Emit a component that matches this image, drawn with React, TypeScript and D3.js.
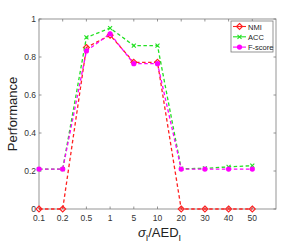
import React, { useEffect, useRef } from 'react';
import * as d3 from 'd3';

const categories = ['0.1', '0.2', '0.5', '1', '5', '10', '20', '30', '40', '50'];
const nmi = [0, 0, 0.85, 0.915, 0.772, 0.772, 0, 0, 0, 0];
const acc = [0.21, 0.21, 0.903, 0.952, 0.86, 0.86, 0.212, 0.214, 0.222, 0.228];
const fscore = [0.21, 0.21, 0.832, 0.922, 0.765, 0.765, 0.21, 0.21, 0.21, 0.21];
const yTicks = [0, 0.2, 0.4, 0.6, 0.8, 1];

const series = [
  { name: 'NMI', values: nmi, color: '#ff2020', marker: 'diamond' },
  { name: 'ACC', values: acc, color: '#22e022', marker: 'cross' },
  { name: 'F-score', values: fscore, color: '#ff00ff', marker: 'circle' },
];

export default function App() {
  const svgRef = useRef<SVGSVGElement>(null);

  useEffect(() => {
    if (!svgRef.current) return;
    const width = 305;
    const height = 246;
    const m = { left: 39, right: 29, top: 19, bottom: 37 };
    const svg = d3.select(svgRef.current);
    svg.selectAll('*').remove();

    const x = d3.scaleLinear().domain([0, categories.length]).range([m.left, width - m.right]);
    const y = d3.scaleLinear().domain([0, 1]).range([height - m.bottom, m.top]);
    const axisColor = '#7a7a7a';
    const font = 'Liberation Sans, Arial, sans-serif';

    svg.append('rect').attr('width', width).attr('height', height).attr('fill', '#fff');

    // box
    svg.append('rect')
      .attr('x', m.left).attr('y', m.top)
      .attr('width', width - m.left - m.right).attr('height', height - m.top - m.bottom)
      .attr('fill', 'none').attr('stroke', axisColor).attr('stroke-width', 0.8);

    // x ticks (inward, top and bottom)
    categories.forEach((c, i) => {
      const xx = x(i);
      svg.append('line').attr('x1', xx).attr('x2', xx).attr('y1', y(0)).attr('y2', y(0) - 2.5)
        .attr('stroke', axisColor).attr('stroke-width', 0.8);
      svg.append('line').attr('x1', xx).attr('x2', xx).attr('y1', y(1)).attr('y2', y(1) + 2.5)
        .attr('stroke', axisColor).attr('stroke-width', 0.8);
      svg.append('text').attr('x', xx).attr('y', y(0) + 12)
        .attr('text-anchor', 'middle').attr('font-family', font).attr('font-size', 8.5)
        .attr('fill', '#333').text(c);
    });

    // y ticks (left and right)
    yTicks.forEach(t => {
      const yy = y(t);
      svg.append('line').attr('x1', m.left).attr('x2', m.left + 2.5).attr('y1', yy).attr('y2', yy)
        .attr('stroke', axisColor).attr('stroke-width', 0.8);
      svg.append('line').attr('x1', width - m.right).attr('x2', width - m.right - 2.5).attr('y1', yy).attr('y2', yy)
        .attr('stroke', axisColor).attr('stroke-width', 0.8);
      svg.append('text').attr('x', m.left - 3).attr('y', yy + 3)
        .attr('text-anchor', 'end').attr('font-family', font).attr('font-size', 8.5)
        .attr('fill', '#333').text(String(t));
    });

    // axis labels
    svg.append('text')
      .attr('transform', `translate(17,${(y(0) + y(1)) / 2}) rotate(-90)`)
      .attr('text-anchor', 'middle').attr('font-family', font).attr('font-size', 13)
      .attr('fill', '#222').text('Performance');

    const xl = svg.append('text')
      .attr('x', (m.left + width - m.right) / 2 + 2).attr('y', 237)
      .attr('text-anchor', 'middle').attr('font-family', font).attr('font-size', 13)
      .attr('fill', '#222');
    xl.append('tspan').attr('font-style', 'italic').text('σ');
    xl.append('tspan').attr('font-size', 9).attr('dy', 4).text('I');
    xl.append('tspan').attr('dy', -4).text('/AED');
    xl.append('tspan').attr('font-size', 9).attr('dy', 4).text('I');

    const drawMarker = (g: d3.Selection<SVGGElement, unknown, null, undefined>, kind: string, cx: number, cy: number, color: string) => {
      if (kind === 'diamond') {
        g.append('path').attr('d', `M${cx},${cy - 3}L${cx + 3},${cy}L${cx},${cy + 3}L${cx - 3},${cy}Z`)
          .attr('fill', 'none').attr('stroke', color).attr('stroke-width', 1.1);
      } else if (kind === 'cross') {
        g.append('path').attr('d', `M${cx - 2},${cy - 2}L${cx + 2},${cy + 2}M${cx - 2},${cy + 2}L${cx + 2},${cy - 2}`)
          .attr('stroke', color).attr('stroke-width', 1.1);
      } else {
        g.append('circle').attr('cx', cx).attr('cy', cy).attr('r', 2.6).attr('fill', color);
      }
    };

    const line = d3.line<number>().x((_, i) => x(i)).y(d => y(d));

    series.forEach(s => {
      const g = svg.append('g');
      g.append('path').datum(s.values).attr('d', line)
        .attr('fill', 'none').attr('stroke', s.color).attr('stroke-width', 1.3)
        .attr('stroke-dasharray', '3.5,2.5');
      s.values.forEach((v, i) => drawMarker(g, s.marker, x(i), y(v), s.color));
    });

    // legend
    const lx = 231, ly = 21, lw = 42, lh = 31;
    svg.append('rect').attr('x', lx).attr('y', ly).attr('width', lw).attr('height', lh)
      .attr('fill', '#fff').attr('stroke', axisColor).attr('stroke-width', 0.8);
    series.forEach((s, i) => {
      const yy = ly + 5.5 + i * 10.3;
      const g = svg.append('g');
      g.append('line').attr('x1', lx + 2).attr('x2', lx + 15).attr('y1', yy).attr('y2', yy)
        .attr('stroke', s.color).attr('stroke-width', 1.1);
      drawMarker(g, s.marker, lx + 8.5, yy, s.color);
      svg.append('text').attr('x', lx + 17).attr('y', yy + 3).attr('font-family', font)
        .attr('font-size', 7.5).attr('fill', '#222').text(s.name);
    });
  }, []);

  return (
    <svg ref={svgRef} width={305} height={246}
      style={{ position: 'absolute', left: 0, top: 0, display: 'block' }} />
  );
}
